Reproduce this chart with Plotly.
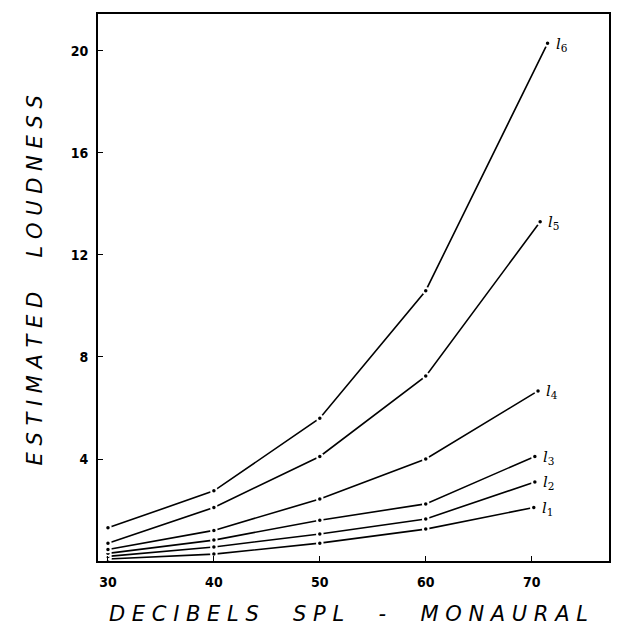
import plotly.graph_objects as go

# Sound pressure level (dB SPL, monaural) and estimated loudness for six series
db_levels = [30, 40, 50, 60, 70]
last_db = {"1": 70.2, "2": 70.3, "3": 70.3, "4": 70.6, "5": 70.8, "6": 71.5}
loud_l1 = [0.08, 0.27, 0.70, 1.25, 2.1]
loud_l2 = [0.18, 0.55, 1.06, 1.65, 3.1]
loud_l3 = [0.30, 0.82, 1.60, 2.24, 4.1]
loud_l4 = [0.45, 1.20, 2.43, 4.00, 6.67]
loud_l5 = [0.70, 2.10, 4.10, 7.25, 13.3]
loud_l6 = [1.30, 2.75, 5.60, 10.6, 20.3]

x_ticks = [30, 40, 50, 60, 70]
y_ticks = [4, 8, 12, 16, 20]

series = [("1", loud_l1), ("2", loud_l2), ("3", loud_l3),
          ("4", loud_l4), ("5", loud_l5), ("6", loud_l6)]


def spaced(words):
    """Letter-spaced title text: single spaces inside words, wide gaps between."""
    gap = " \u2003 "
    return gap.join(" ".join(w) for w in words)


fig = go.Figure()
for key, vals in series:
    xs = db_levels[:-1] + [last_db[key]]
    fig.add_trace(go.Scatter(
        x=xs, y=vals, mode="lines+markers",
        line=dict(color="black", width=1.6),
        marker=dict(color="black", size=5.5,
                    line=dict(color="white", width=2)),
        showlegend=False, hoverinfo="skip",
    ))
    fig.add_annotation(
        x=last_db[key], y=vals[-1], xref="x", yref="y",
        text=f"<i>l</i><sub>{key}</sub>", showarrow=False,
        xanchor="left", yanchor="middle", xshift=6, yshift=-1,
        font=dict(family="DejaVu Serif", size=15, color="black"),
    )

tick_font = dict(family="Liberation Sans Narrow, DejaVu Sans Condensed", size=14,
                 color="black", weight="bold")

fig.update_xaxes(
    range=[29.06, 77.3], tickvals=x_ticks, ticks="inside", ticklen=5,
    tickwidth=1.2, tickcolor="black", showline=True, linecolor="black",
    linewidth=2, mirror=True, showgrid=False, zeroline=False,
    tickfont=tick_font, ticklabelstandoff=7,
)
fig.update_yaxes(
    range=[0, 21.45], tickvals=y_ticks, ticks="inside", ticklen=5,
    tickwidth=1.2, tickcolor="black", showline=True, linecolor="black",
    linewidth=2, mirror=True, showgrid=False, zeroline=False,
    tickfont=tick_font, ticklabelstandoff=5,
)

title_font = dict(family="DejaVu Sans", size=21, color="black")
fig.add_annotation(
    xref="paper", yref="paper", x=-0.123, y=0.513,
    text="<i>" + spaced(["ESTIMATED", "LOUDNESS"]) + "</i>",
    textangle=-90, showarrow=False, font=title_font,
    xanchor="center", yanchor="middle",
)
fig.add_annotation(
    xref="paper", yref="paper", x=0.491, y=-0.097,
    text="<i>" + spaced(["DECIBELS", "SPL", "-", "MONAURAL"]) + "</i>",
    showarrow=False, font=title_font,
    xanchor="center", yanchor="middle",
)

fig.update_layout(
    width=623, height=644,
    margin=dict(l=98, r=12, t=13, b=83),
    paper_bgcolor="white", plot_bgcolor="white",
)

fig.write_html("out.html")
